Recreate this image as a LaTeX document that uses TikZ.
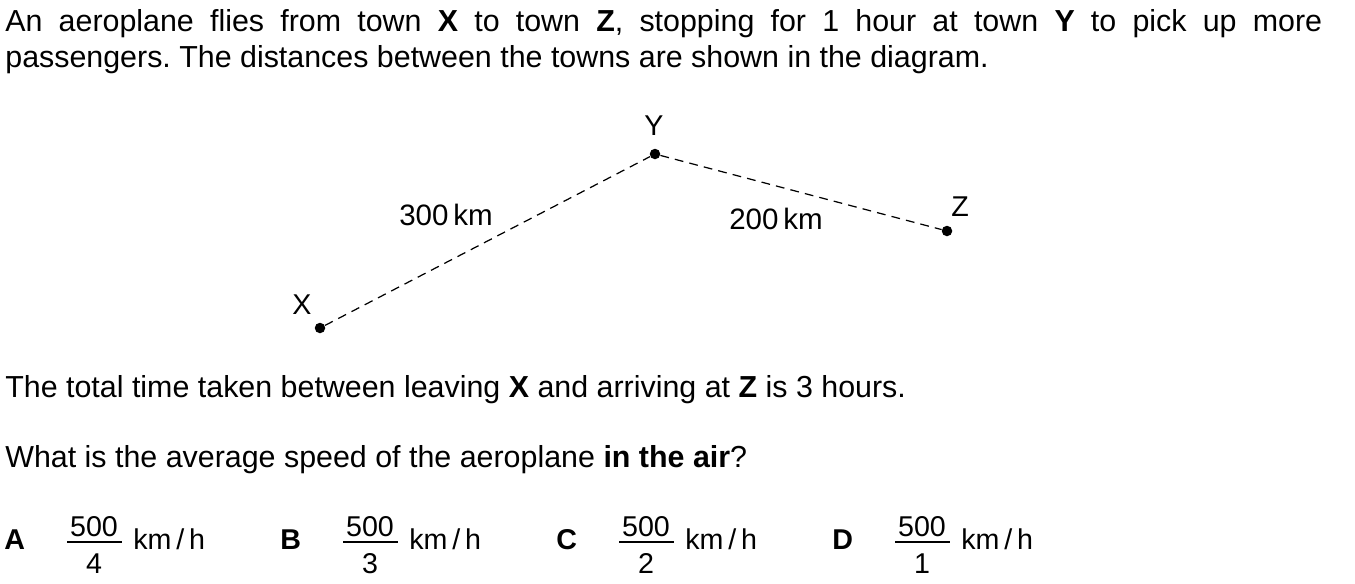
\documentclass[tikz,border=0pt]{standalone}
\usepackage{fontspec}
\setmainfont{Liberation Sans}
\frenchspacing
\begin{document}
\begin{tikzpicture}[x=0.02cm, y=-0.02cm,
  every node/.style={inner sep=0pt, font=\fontsize{16.3pt}{20pt}\selectfont},
  txt/.style={anchor=base west},
  para/.style={anchor=base west, font=\fontsize{17.3pt}{21pt}\selectfont},
  lbl/.style={anchor=base},
  town/.style={circle, fill=black, minimum size=0.21cm, inner sep=0pt},
  route/.style={dash pattern=on 5pt off 3.5pt, line width=0.7pt}]
\useasboundingbox (0,0) rectangle (1355,583);
\node[para] (line1) at (5,31)
  {\makebox[26.34cm][s]{An aeroplane flies from town \textbf{X} to town \textbf{Z}, stopping for 1 hour at town \textbf{Y} to pick up more}};
\node[para] (line2) at (5,67) {passengers. The distances between the towns are shown in the diagram.};
% the towns
\node[town] (X) at (320,328) {};
\node[town] (Y) at (655,154) {};
\node[town] (Z) at (947,231) {};
\node[lbl] (labX) at (302,314) {X};
\node[lbl] (labY) at (654,135) {Y};
\node[lbl] (labZ) at (960,216) {Z};
\draw[route] (X) -- (Y) -- (Z);
\node[lbl, font=\fontsize{16.8pt}{20pt}\selectfont] (dXY) at (446,225) {300\,km};
\node[lbl, font=\fontsize{16.8pt}{20pt}\selectfont] (dYZ) at (776,229) {200\,km};
\node[para] (total) at (5,397) {The total time taken between leaving \textbf{X} and arriving at \textbf{Z} is 3 hours.};
\node[para] (question) at (5,467) {What is the average speed of the aeroplane \textbf{in the air}?};
% answer options
\foreach \opt/\den [count=\i from 0] in {A/4,B/3,C/2,D/1}{
  \node[txt] (opt\opt) at (4+276*\i,549) {\textbf{\opt}};
  \node[lbl] (num\opt) at (94+276*\i,536) {500};
  \node[lbl] (den\opt) at (94+276*\i,573) {\den};
  \draw[line width=0.85pt] (67+276*\i,542) -- (122+276*\i,542);
  \node[txt] (unit\opt) at (133+276*\i,549) {km\,/\,h};
}
\end{tikzpicture}
\end{document}
